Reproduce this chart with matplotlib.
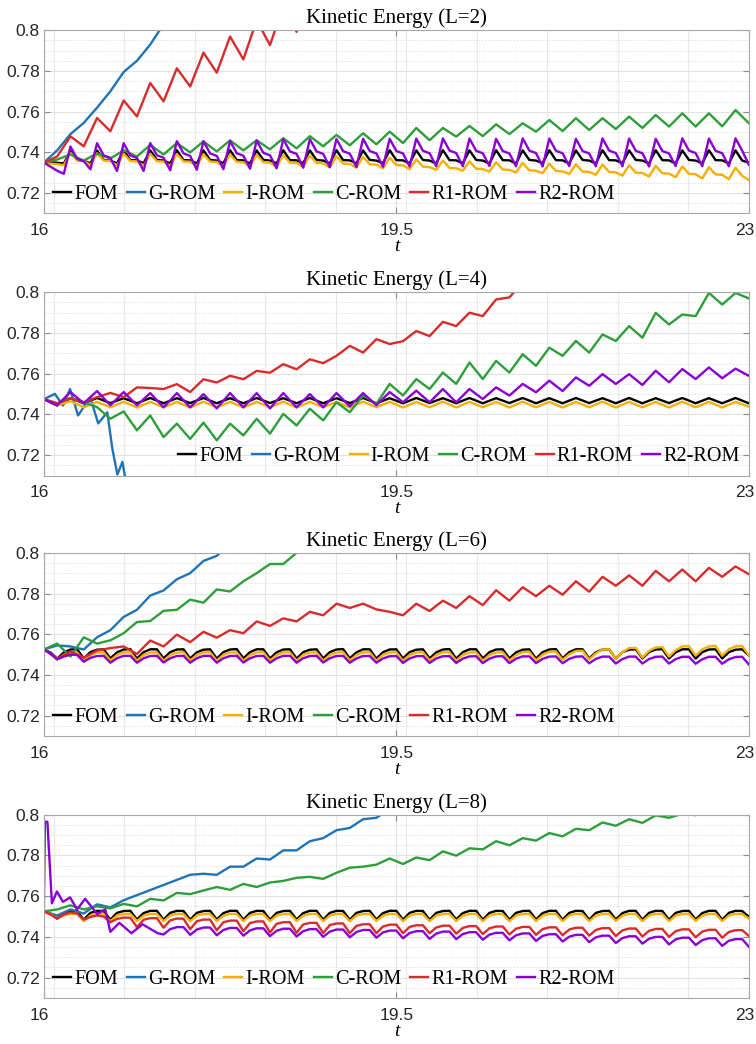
import matplotlib
matplotlib.use("Agg")
import matplotlib.pyplot as plt
import matplotlib.transforms as mtransforms
import numpy as np

labels = ["FOM", "G-ROM", "I-ROM", "C-ROM", "R1-ROM", "R2-ROM"]
colors = ["#000000", "#1F74B8", "#F5B000", "#2E9E3A", "#D92B2B", "#8A00D4"]

# sampling times: t has two samples per oscillation period, t_fine has four
t = np.linspace(16, 23, 54)
t_fine = np.linspace(16, 23, 107)

x_ticks = [16, 19.5, 23]
x_ticklabels = ["16", "19.5", "23"]
x_minor = [16.1, 16.8, 17.5, 18.2, 18.9, 19.6, 20.3, 21.0, 21.7, 22.4]
y_ticks = [0.72, 0.74, 0.76, 0.78, 0.8]
y_ticklabels = ["0.72", "0.74", "0.76", "0.78", "0.8"]

# ---- L = 2 ----
fom_2 = [0.7350, 0.7352, 0.7349, 0.7346, 0.7406, 0.7362, 0.7360, 0.7346,
         0.7409, 0.7363, 0.7360, 0.7346, 0.7410, 0.7362, 0.7361, 0.7347,
         0.7410, 0.7363, 0.7360, 0.7346, 0.7411, 0.7362, 0.7361, 0.7346,
         0.7410, 0.7363, 0.7360, 0.7347, 0.7411, 0.7362, 0.7361, 0.7346,
         0.7410, 0.7363, 0.7360, 0.7346, 0.7411, 0.7362, 0.7361, 0.7347,
         0.7410, 0.7363, 0.7360, 0.7346, 0.7411, 0.7362, 0.7361, 0.7346,
         0.7410, 0.7363, 0.7360, 0.7347, 0.7411, 0.7362, 0.7361, 0.7346,
         0.7410, 0.7363, 0.7360, 0.7346, 0.7411, 0.7362, 0.7361, 0.7347,
         0.7410, 0.7363, 0.7360, 0.7346, 0.7411, 0.7362, 0.7361, 0.7346,
         0.7410, 0.7363, 0.7360, 0.7347, 0.7411, 0.7362, 0.7361, 0.7346,
         0.7410, 0.7363, 0.7360, 0.7346, 0.7411, 0.7362, 0.7361, 0.7347,
         0.7410, 0.7363, 0.7360, 0.7346, 0.7411, 0.7362, 0.7361, 0.7346,
         0.7410, 0.7363, 0.7360, 0.7347, 0.7411, 0.7362, 0.7361, 0.7346,
         0.7410, 0.7360, 0.7350]
grom_2 = [0.7350, 0.7410, 0.7490, 0.7545, 0.7620, 0.7700, 0.7795, 0.7850, 0.7930, 0.8030, 0.8120]
irom_2 = [0.7350, 0.7345, 0.7342, 0.7338, 0.7398, 0.7362, 0.7360, 0.7337,
          0.7396, 0.7360, 0.7358, 0.7336, 0.7394, 0.7358, 0.7356, 0.7335,
          0.7393, 0.7357, 0.7355, 0.7334, 0.7392, 0.7356, 0.7354, 0.7333,
          0.7391, 0.7355, 0.7353, 0.7332, 0.7390, 0.7354, 0.7352, 0.7331,
          0.7388, 0.7352, 0.7350, 0.7330, 0.7386, 0.7350, 0.7348, 0.7329,
          0.7384, 0.7348, 0.7346, 0.7327, 0.7381, 0.7345, 0.7343, 0.7325,
          0.7378, 0.7342, 0.7340, 0.7322, 0.7374, 0.7338, 0.7336, 0.7318,
          0.7366, 0.7330, 0.7328, 0.7314, 0.7360, 0.7324, 0.7322, 0.7310,
          0.7356, 0.7320, 0.7318, 0.7306, 0.7352, 0.7316, 0.7314, 0.7302,
          0.7348, 0.7312, 0.7310, 0.7298, 0.7345, 0.7309, 0.7307, 0.7294,
          0.7342, 0.7306, 0.7304, 0.7290, 0.7340, 0.7304, 0.7302, 0.7286,
          0.7337, 0.7301, 0.7299, 0.7282, 0.7334, 0.7298, 0.7296, 0.7278,
          0.7331, 0.7295, 0.7293, 0.7272, 0.7328, 0.7292, 0.7290, 0.7268,
          0.7325, 0.7285, 0.7265]
crom_2 = [0.7350, 0.7365, 0.7390, 0.7360, 0.7395, 0.7370, 0.7410, 0.7380, 0.7437, 0.7390,
          0.7446, 0.7400, 0.7454, 0.7405, 0.7459, 0.7410, 0.7460, 0.7415, 0.7470, 0.7420,
          0.7480, 0.7430, 0.7486, 0.7435, 0.7494, 0.7440, 0.7502, 0.7446, 0.7520, 0.7460,
          0.7520, 0.7478, 0.7530, 0.7480, 0.7538, 0.7490, 0.7543, 0.7502, 0.7559, 0.7505,
          0.7568, 0.7510, 0.7568, 0.7515, 0.7576, 0.7520, 0.7584, 0.7527, 0.7592, 0.7527,
          0.7592, 0.7528, 0.7608, 0.7544]
r1rom_2 = [0.7350, 0.7380, 0.7479, 0.7430, 0.7569, 0.7504, 0.7655, 0.7577, 0.7741, 0.7651,
           0.7813, 0.7724, 0.7890, 0.7792, 0.7969, 0.7857, 0.8050, 0.7927, 0.8120, 0.7992, 0.8200]
r2rom_2 = [0.7350, 0.7330, 0.7310, 0.7295, 0.7429, 0.7369, 0.7357, 0.7317,
           0.7445, 0.7385, 0.7373, 0.7309, 0.7445, 0.7385, 0.7373, 0.7309,
           0.7446, 0.7386, 0.7374, 0.7312, 0.7455, 0.7395, 0.7383, 0.7315,
           0.7455, 0.7395, 0.7383, 0.7318, 0.7456, 0.7396, 0.7384, 0.7320,
           0.7458, 0.7398, 0.7386, 0.7322, 0.7465, 0.7405, 0.7393, 0.7325,
           0.7465, 0.7405, 0.7393, 0.7327, 0.7466, 0.7406, 0.7394, 0.7328,
           0.7467, 0.7407, 0.7395, 0.7330, 0.7467, 0.7407, 0.7395, 0.7331,
           0.7468, 0.7408, 0.7396, 0.7332, 0.7469, 0.7409, 0.7397, 0.7332,
           0.7468, 0.7408, 0.7396, 0.7333, 0.7467, 0.7407, 0.7395, 0.7332,
           0.7469, 0.7409, 0.7397, 0.7331, 0.7468, 0.7408, 0.7396, 0.7333,
           0.7467, 0.7407, 0.7395, 0.7332, 0.7469, 0.7409, 0.7397, 0.7332,
           0.7468, 0.7408, 0.7396, 0.7331, 0.7467, 0.7407, 0.7395, 0.7333,
           0.7469, 0.7409, 0.7397, 0.7332, 0.7468, 0.7408, 0.7396, 0.7332,
           0.7469, 0.7409, 0.7340]

# ---- L = 4 ----
fom_4 = [0.7475, 0.7444, 0.7480, 0.7455, 0.7481, 0.7456, 0.7480, 0.7455, 0.7481, 0.7455,
         0.7480, 0.7456, 0.7481, 0.7455, 0.7480, 0.7455, 0.7481, 0.7456, 0.7480, 0.7455,
         0.7481, 0.7455, 0.7480, 0.7456, 0.7481, 0.7455, 0.7480, 0.7455, 0.7481, 0.7456,
         0.7480, 0.7455, 0.7481, 0.7455, 0.7480, 0.7456, 0.7481, 0.7455, 0.7480, 0.7455,
         0.7481, 0.7456, 0.7480, 0.7455, 0.7481, 0.7455, 0.7480, 0.7456, 0.7481, 0.7455,
         0.7480, 0.7455, 0.7481, 0.7455]
grom_4_t = [16.0, 16.11, 16.19, 16.26, 16.34, 16.46, 16.54, 16.63, 16.68, 16.73, 16.78, 16.84]
grom_4 = [0.7475, 0.7501, 0.7444, 0.7525, 0.7395, 0.7484, 0.7356, 0.7411, 0.7232, 0.7105, 0.7167, 0.7000]
irom_4 = [0.7475, 0.7445, 0.7465, 0.7435, 0.7462, 0.7435, 0.7463, 0.7434, 0.7462, 0.7435,
          0.7462, 0.7434, 0.7463, 0.7435, 0.7462, 0.7434, 0.7462, 0.7435, 0.7463, 0.7434,
          0.7462, 0.7435, 0.7462, 0.7434, 0.7463, 0.7435, 0.7462, 0.7434, 0.7462, 0.7435,
          0.7463, 0.7434, 0.7462, 0.7435, 0.7462, 0.7434, 0.7463, 0.7435, 0.7462, 0.7434,
          0.7462, 0.7435, 0.7463, 0.7434, 0.7462, 0.7435, 0.7462, 0.7434, 0.7463, 0.7435,
          0.7462, 0.7434, 0.7462, 0.7438]
crom_4 = [0.7475, 0.7455, 0.7480, 0.7460, 0.7436, 0.7379, 0.7415, 0.7322, 0.7395, 0.7289,
          0.7355, 0.7280, 0.7360, 0.7273, 0.7355, 0.7297, 0.7379, 0.7306, 0.7403, 0.7346,
          0.7428, 0.7371, 0.7460, 0.7411, 0.7493, 0.7452, 0.7550, 0.7493, 0.7574, 0.7525,
          0.7606, 0.7550, 0.7655, 0.7574, 0.7663, 0.7606, 0.7696, 0.7639, 0.7728, 0.7688,
          0.7761, 0.7704, 0.7793, 0.7761, 0.7834, 0.7777, 0.7899, 0.7842, 0.7891, 0.7883,
          0.7997, 0.7940, 0.7997, 0.7970]
r1rom_4 = [0.7475, 0.7455, 0.7480, 0.7460, 0.7485, 0.7506, 0.7485, 0.7533, 0.7530, 0.7525,
           0.7549, 0.7510, 0.7573, 0.7557, 0.7590, 0.7573, 0.7614, 0.7605, 0.7647, 0.7622,
           0.7671, 0.7652, 0.7688, 0.7737, 0.7704, 0.7770, 0.7746, 0.7760, 0.7810, 0.7785,
           0.7855, 0.7834, 0.7900, 0.7883, 0.7965, 0.7975, 0.8050]
r2rom_4 = [0.7475, 0.7445, 0.7510, 0.7455, 0.7515, 0.7445, 0.7510, 0.7445, 0.7505, 0.7435,
           0.7505, 0.7435, 0.7500, 0.7430, 0.7505, 0.7435, 0.7505, 0.7430, 0.7505, 0.7435,
           0.7500, 0.7435, 0.7505, 0.7440, 0.7505, 0.7445, 0.7510, 0.7460, 0.7517, 0.7460,
           0.7525, 0.7460, 0.7525, 0.7476, 0.7533, 0.7493, 0.7550, 0.7509, 0.7566, 0.7515,
           0.7582, 0.7541, 0.7598, 0.7550, 0.7598, 0.7545, 0.7615, 0.7558, 0.7623, 0.7574,
           0.7631, 0.7578, 0.7625, 0.7590]

# ---- L = 6 ----
fom_6 = [0.7525, 0.7510, 0.7480, 0.7510, 0.7525, 0.7526, 0.7481, 0.7512,
         0.7524, 0.7526, 0.7481, 0.7511, 0.7525, 0.7527, 0.7480, 0.7512,
         0.7526, 0.7526, 0.7481, 0.7512, 0.7525, 0.7526, 0.7481, 0.7511,
         0.7524, 0.7526, 0.7480, 0.7512, 0.7525, 0.7527, 0.7481, 0.7512,
         0.7526, 0.7526, 0.7481, 0.7511, 0.7525, 0.7526, 0.7480, 0.7512,
         0.7524, 0.7526, 0.7481, 0.7512, 0.7525, 0.7527, 0.7481, 0.7511,
         0.7526, 0.7526, 0.7480, 0.7512, 0.7525, 0.7526, 0.7481, 0.7512,
         0.7524, 0.7526, 0.7481, 0.7511, 0.7525, 0.7527, 0.7480, 0.7512,
         0.7526, 0.7526, 0.7481, 0.7512, 0.7525, 0.7526, 0.7481, 0.7511,
         0.7524, 0.7526, 0.7480, 0.7512, 0.7525, 0.7527, 0.7481, 0.7512,
         0.7526, 0.7526, 0.7481, 0.7511, 0.7525, 0.7526, 0.7480, 0.7512,
         0.7524, 0.7526, 0.7481, 0.7512, 0.7525, 0.7527, 0.7481, 0.7511,
         0.7526, 0.7526, 0.7480, 0.7512, 0.7525, 0.7526, 0.7481, 0.7512,
         0.7524, 0.7526, 0.7496]
grom_6 = [0.7525, 0.7545, 0.7540, 0.7525, 0.7585, 0.7620, 0.7685, 0.7720, 0.7790, 0.7815,
          0.7870, 0.7900, 0.7960, 0.7985, 0.8050]
irom_6 = [0.7525, 0.7505, 0.7475, 0.7500, 0.7510, 0.7511, 0.7470, 0.7498,
          0.7510, 0.7511, 0.7471, 0.7498, 0.7511, 0.7511, 0.7470, 0.7499,
          0.7510, 0.7511, 0.7470, 0.7498, 0.7510, 0.7512, 0.7471, 0.7498,
          0.7511, 0.7511, 0.7470, 0.7499, 0.7510, 0.7511, 0.7470, 0.7498,
          0.7510, 0.7512, 0.7471, 0.7498, 0.7511, 0.7511, 0.7470, 0.7499,
          0.7510, 0.7511, 0.7470, 0.7498, 0.7510, 0.7512, 0.7471, 0.7498,
          0.7511, 0.7511, 0.7470, 0.7499, 0.7510, 0.7511, 0.7470, 0.7498,
          0.7510, 0.7512, 0.7471, 0.7498, 0.7511, 0.7511, 0.7470, 0.7499,
          0.7510, 0.7511, 0.7470, 0.7498, 0.7510, 0.7512, 0.7471, 0.7498,
          0.7512, 0.7513, 0.7472, 0.7500, 0.7514, 0.7515, 0.7474, 0.7502,
          0.7518, 0.7519, 0.7476, 0.7506, 0.7525, 0.7526, 0.7480, 0.7512,
          0.7532, 0.7533, 0.7485, 0.7518, 0.7535, 0.7537, 0.7490, 0.7522,
          0.7540, 0.7541, 0.7495, 0.7526, 0.7540, 0.7542, 0.7494, 0.7526,
          0.7540, 0.7542, 0.7497]
crom_6 = [0.7525, 0.7554, 0.7490, 0.7585, 0.7554, 0.7570, 0.7605, 0.7660, 0.7665, 0.7715,
          0.7720, 0.7770, 0.7755, 0.7820, 0.7810, 0.7860, 0.7900, 0.7945, 0.7945, 0.8000, 0.8060]
r1rom_6 = [0.7525, 0.7480, 0.7515, 0.7485, 0.7520, 0.7532, 0.7540, 0.7503, 0.7569, 0.7540,
           0.7598, 0.7561, 0.7612, 0.7583, 0.7620, 0.7605, 0.7663, 0.7641, 0.7678, 0.7663,
           0.7710, 0.7693, 0.7750, 0.7729, 0.7750, 0.7722, 0.7710, 0.7693, 0.7750, 0.7714,
           0.7765, 0.7729, 0.7787, 0.7743, 0.7816, 0.7765, 0.7831, 0.7787, 0.7838, 0.7794,
           0.7860, 0.7809, 0.7882, 0.7838, 0.7889, 0.7838, 0.7911, 0.7860, 0.7918, 0.7860,
           0.7926, 0.7882, 0.7933, 0.7895]
r2rom_6 = [0.7525, 0.7505, 0.7477, 0.7490, 0.7500, 0.7498, 0.7465, 0.7484,
           0.7493, 0.7494, 0.7460, 0.7482, 0.7494, 0.7494, 0.7460, 0.7482,
           0.7493, 0.7494, 0.7461, 0.7482, 0.7493, 0.7494, 0.7460, 0.7482,
           0.7494, 0.7494, 0.7460, 0.7482, 0.7493, 0.7494, 0.7461, 0.7482,
           0.7493, 0.7494, 0.7460, 0.7482, 0.7494, 0.7494, 0.7460, 0.7482,
           0.7493, 0.7494, 0.7461, 0.7482, 0.7493, 0.7494, 0.7460, 0.7481,
           0.7493, 0.7493, 0.7460, 0.7481, 0.7492, 0.7493, 0.7459, 0.7481,
           0.7492, 0.7493, 0.7459, 0.7481, 0.7492, 0.7492, 0.7459, 0.7480,
           0.7491, 0.7492, 0.7458, 0.7480, 0.7491, 0.7492, 0.7458, 0.7480,
           0.7491, 0.7491, 0.7458, 0.7479, 0.7490, 0.7491, 0.7457, 0.7479,
           0.7490, 0.7491, 0.7457, 0.7479, 0.7490, 0.7490, 0.7456, 0.7478,
           0.7490, 0.7490, 0.7456, 0.7478, 0.7489, 0.7490, 0.7456, 0.7478,
           0.7489, 0.7489, 0.7455, 0.7477, 0.7489, 0.7489, 0.7455, 0.7477,
           0.7488, 0.7489, 0.7452]

# ---- L = 8 ----
fom_8 = [0.7525, 0.7515, 0.7490, 0.7515, 0.7528, 0.7528, 0.7484, 0.7518,
         0.7528, 0.7527, 0.7484, 0.7518, 0.7527, 0.7528, 0.7485, 0.7517,
         0.7528, 0.7528, 0.7484, 0.7518, 0.7528, 0.7527, 0.7484, 0.7518,
         0.7527, 0.7528, 0.7485, 0.7517, 0.7528, 0.7528, 0.7484, 0.7518,
         0.7528, 0.7527, 0.7484, 0.7518, 0.7527, 0.7528, 0.7485, 0.7517,
         0.7528, 0.7528, 0.7484, 0.7518, 0.7528, 0.7527, 0.7484, 0.7518,
         0.7527, 0.7528, 0.7485, 0.7517, 0.7528, 0.7528, 0.7484, 0.7518,
         0.7528, 0.7527, 0.7484, 0.7518, 0.7527, 0.7528, 0.7485, 0.7517,
         0.7528, 0.7528, 0.7484, 0.7518, 0.7528, 0.7527, 0.7484, 0.7518,
         0.7527, 0.7528, 0.7485, 0.7517, 0.7528, 0.7528, 0.7484, 0.7518,
         0.7528, 0.7527, 0.7484, 0.7518, 0.7527, 0.7528, 0.7485, 0.7517,
         0.7528, 0.7528, 0.7484, 0.7518, 0.7528, 0.7527, 0.7484, 0.7518,
         0.7527, 0.7528, 0.7485, 0.7517, 0.7528, 0.7528, 0.7484, 0.7518,
         0.7528, 0.7527, 0.7499]
grom_8 = [0.7525, 0.7505, 0.7535, 0.7515, 0.7560, 0.7545, 0.7580, 0.7605, 0.7630, 0.7655,
          0.7680, 0.7705, 0.7710, 0.7705, 0.7745, 0.7745, 0.7785, 0.7780, 0.7825, 0.7825,
          0.7870, 0.7885, 0.7924, 0.7935, 0.7978, 0.7985, 0.8030]
irom_8 = [0.7525, 0.7512, 0.7490, 0.7505, 0.7513, 0.7513, 0.7477, 0.7505,
          0.7513, 0.7512, 0.7477, 0.7505, 0.7512, 0.7513, 0.7478, 0.7504,
          0.7513, 0.7513, 0.7477, 0.7505, 0.7513, 0.7512, 0.7477, 0.7505,
          0.7512, 0.7513, 0.7478, 0.7504, 0.7513, 0.7513, 0.7477, 0.7505,
          0.7513, 0.7512, 0.7477, 0.7505, 0.7512, 0.7513, 0.7478, 0.7504,
          0.7513, 0.7513, 0.7477, 0.7505, 0.7513, 0.7512, 0.7477, 0.7505,
          0.7512, 0.7513, 0.7478, 0.7504, 0.7513, 0.7513, 0.7477, 0.7505,
          0.7513, 0.7512, 0.7477, 0.7505, 0.7512, 0.7513, 0.7478, 0.7504,
          0.7513, 0.7513, 0.7477, 0.7505, 0.7513, 0.7512, 0.7477, 0.7505,
          0.7512, 0.7513, 0.7478, 0.7504, 0.7513, 0.7513, 0.7477, 0.7505,
          0.7513, 0.7512, 0.7477, 0.7505, 0.7512, 0.7513, 0.7478, 0.7504,
          0.7513, 0.7513, 0.7477, 0.7505, 0.7513, 0.7512, 0.7477, 0.7505,
          0.7512, 0.7513, 0.7478, 0.7504, 0.7513, 0.7513, 0.7477, 0.7505,
          0.7513, 0.7512, 0.7490]
crom_8 = [0.7525, 0.7535, 0.7555, 0.7535, 0.7550, 0.7540, 0.7562, 0.7550, 0.7587, 0.7579,
          0.7616, 0.7610, 0.7628, 0.7645, 0.7631, 0.7660, 0.7645, 0.7667, 0.7675, 0.7690,
          0.7695, 0.7685, 0.7715, 0.7740, 0.7745, 0.7755, 0.7785, 0.7758, 0.7790, 0.7777,
          0.7820, 0.7799, 0.7835, 0.7830, 0.7870, 0.7850, 0.7885, 0.7873, 0.7910, 0.7894,
          0.7931, 0.7924, 0.7962, 0.7946, 0.7978, 0.7960, 0.7997, 0.7985, 0.8005, 0.7998,
          0.8030, 0.8050]
r1rom_8 = [0.7525, 0.7510, 0.7490, 0.7510, 0.7520, 0.7515, 0.7485, 0.7498,
           0.7505, 0.7500, 0.7472, 0.7488, 0.7495, 0.7494, 0.7448, 0.7484,
           0.7492, 0.7492, 0.7445, 0.7481, 0.7490, 0.7489, 0.7438, 0.7477,
           0.7485, 0.7485, 0.7432, 0.7472, 0.7480, 0.7480, 0.7428, 0.7468,
           0.7476, 0.7476, 0.7422, 0.7464, 0.7472, 0.7472, 0.7420, 0.7461,
           0.7469, 0.7469, 0.7419, 0.7458, 0.7466, 0.7466, 0.7418, 0.7454,
           0.7462, 0.7462, 0.7418, 0.7451, 0.7460, 0.7460, 0.7418, 0.7449,
           0.7457, 0.7457, 0.7418, 0.7446, 0.7455, 0.7455, 0.7416, 0.7444,
           0.7453, 0.7453, 0.7414, 0.7442, 0.7451, 0.7451, 0.7412, 0.7440,
           0.7449, 0.7449, 0.7410, 0.7438, 0.7447, 0.7447, 0.7408, 0.7436,
           0.7445, 0.7445, 0.7406, 0.7434, 0.7443, 0.7443, 0.7404, 0.7432,
           0.7441, 0.7441, 0.7402, 0.7430, 0.7439, 0.7439, 0.7400, 0.7428,
           0.7437, 0.7437, 0.7398, 0.7426, 0.7435, 0.7435, 0.7396, 0.7424,
           0.7433, 0.7433, 0.7405]
# R2-ROM starts with a sharp spike, read at its own times, then follows t_fine from index 18
r2rom_8_head_t = [16.0, 16.01, 16.035, 16.08, 16.13, 16.19, 16.26, 16.33, 16.41, 16.53,
                  16.61, 16.66, 16.75, 16.87, 16.98, 17.13]
r2rom_8_head = [0.7525, 0.7965, 0.7965, 0.7565, 0.7623, 0.7572, 0.7594, 0.7535, 0.7587, 0.7513,
                0.7535, 0.7425, 0.7469, 0.7418, 0.7462, 0.7418]
r2rom_8 = [0.7412, 0.7438,
           0.7448, 0.7448, 0.7410, 0.7436, 0.7446, 0.7446, 0.7408, 0.7434,
           0.7444, 0.7444, 0.7406, 0.7432, 0.7442, 0.7442, 0.7404, 0.7430,
           0.7440, 0.7440, 0.7402, 0.7428, 0.7438, 0.7438, 0.7400, 0.7426,
           0.7436, 0.7436, 0.7398, 0.7424, 0.7434, 0.7434, 0.7396, 0.7422,
           0.7431, 0.7431, 0.7393, 0.7419, 0.7428, 0.7428, 0.7390, 0.7416,
           0.7426, 0.7426, 0.7389, 0.7414, 0.7423, 0.7423, 0.7386, 0.7411,
           0.7420, 0.7420, 0.7383, 0.7408, 0.7417, 0.7417, 0.7380, 0.7405,
           0.7413, 0.7413, 0.7377, 0.7401, 0.7410, 0.7410, 0.7374, 0.7398,
           0.7406, 0.7406, 0.7370, 0.7394, 0.7403, 0.7403, 0.7367, 0.7391,
           0.7400, 0.7400, 0.7363, 0.7388, 0.7396, 0.7396, 0.7360, 0.7384,
           0.7393, 0.7393, 0.7356, 0.7381, 0.7389, 0.7389, 0.7352]


def on_grid(values, start=0):
    return t[start:start + len(values)], values


def on_fine(values, start=0):
    return t_fine[start:start + len(values)], values


def draw_panel(fig, ax, title, ylim, series, legend_loc):
    for (tt, vals), label, color in zip(series, labels, colors):
        ax.plot(tt, vals, color=color, lw=1.7, label=label, solid_joinstyle="round")
    ax.set_xlim(16, 23)
    ax.set_ylim(ylim)
    ax.set_xticks(x_ticks)
    ax.set_xticklabels(x_ticklabels)
    ax.set_xticks(x_minor, minor=True)
    ax.set_yticks(y_ticks)
    ax.set_yticklabels(y_ticklabels)
    ax.set_yticks(np.arange(0.71, 0.8001, 0.005), minor=True)
    ax.tick_params(which="major", direction="in", length=4, width=0.8, color="#8c8c8c",
                   top=True, right=True, labelsize=12.5, labelcolor="#262626")
    ax.tick_params(axis="x", which="major", pad=7)
    ax.tick_params(axis="y", which="major", pad=3)
    ax.tick_params(which="minor", length=0)
    ax.grid(which="major", color="#e2e2e2", lw=0.8)
    ax.grid(which="minor", axis="x", color="#e8e8e8", lw=0.8)
    ax.grid(which="minor", axis="y", color="#d4d4d4", lw=0.7, ls=(0, (1, 2)))
    ax.set_axisbelow(True)
    for s in ax.spines.values():
        s.set_color("#a8a8a8")
        s.set_linewidth(0.8)
    for lab in ax.get_xticklabels() + ax.get_yticklabels():
        lab.set_family("Liberation Sans")
    # end labels sit a little left of their ticks, as in the original
    shift = mtransforms.ScaledTranslation(-3 / 72, 0, fig.dpi_scale_trans)
    ticks = ax.xaxis.get_major_ticks()
    for tk in (ticks[0], ticks[-1]):
        tk.label1.set_transform(tk.label1.get_transform() + shift)
    ax.set_title(title, fontfamily="Liberation Serif", fontsize=15, pad=5)
    ax.set_xlabel("t", fontfamily="Liberation Serif", fontstyle="italic", fontsize=14, labelpad=0)
    ax.legend(loc=legend_loc, ncol=6, frameon=False,
              prop={"family": "Liberation Serif", "size": 14.5},
              handlelength=0.9, handletextpad=0.15, columnspacing=0.45,
              borderaxespad=0.25, borderpad=0.2)


def main():
    fig = plt.figure(figsize=(7.56, 10.44), dpi=100)
    left, width, height = 0.058, 0.9325, 0.1755
    bottoms = [0.7955, 0.5445, 0.2950, 0.0441]

    panels = [
        ("Kinetic Energy (L=2)", (0.71, 0.8), "lower left",
         [on_fine(fom_2), on_grid(grom_2), on_fine(irom_2), on_grid(crom_2),
          on_grid(r1rom_2), on_fine(r2rom_2)]),
        ("Kinetic Energy (L=4)", (0.71, 0.8), "lower right",
         [on_grid(fom_4), (grom_4_t, grom_4), on_grid(irom_4), on_grid(crom_4),
          on_grid(r1rom_4), on_grid(r2rom_4)]),
        ("Kinetic Energy (L=6)", (0.72, 0.8), "lower left",
         [on_fine(fom_6), on_grid(grom_6), on_fine(irom_6), on_grid(crom_6),
          on_grid(r1rom_6), on_fine(r2rom_6)]),
        ("Kinetic Energy (L=8)", (0.72, 0.8), "lower left",
         [on_fine(fom_8), on_grid(grom_8), on_fine(irom_8), on_grid(crom_8),
          on_fine(r1rom_8),
          (np.concatenate([r2rom_8_head_t, t_fine[18:]]), r2rom_8_head + r2rom_8)]),
    ]

    for bottom, (title, ylim, loc, series) in zip(bottoms, panels):
        ax = fig.add_axes([left, bottom, width, height])
        draw_panel(fig, ax, title, ylim, series, loc)

    fig.savefig("out.png", dpi=100)


if __name__ == "__main__":
    main()
